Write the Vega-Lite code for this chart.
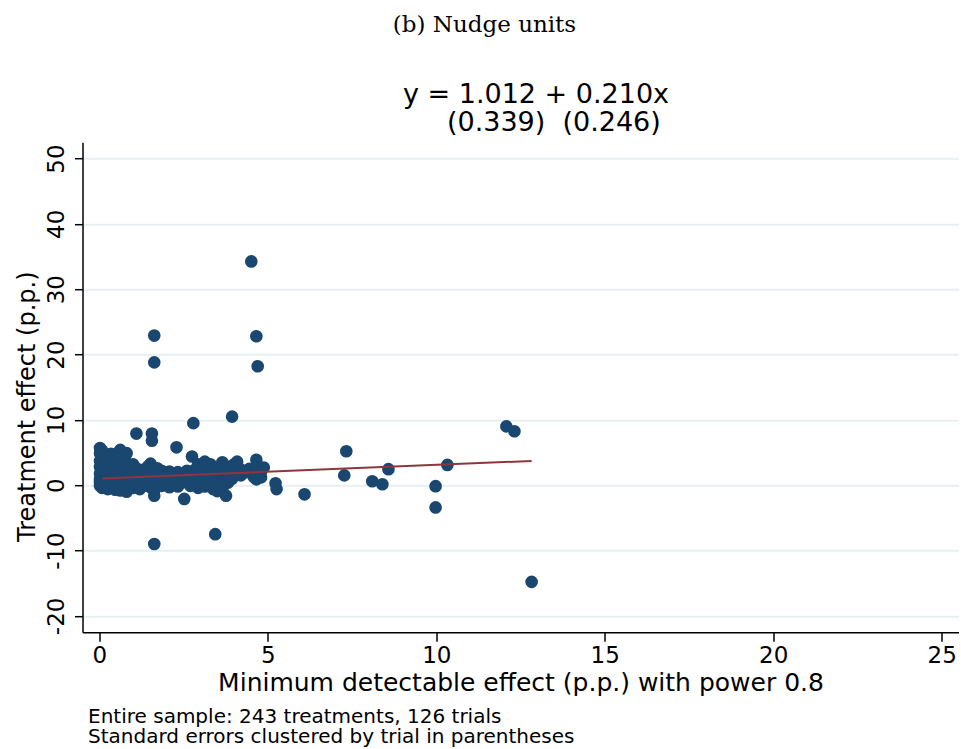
{
  "$schema": "https://vega.github.io/schema/vega-lite/v6.json",
  "width": 876,
  "height": 490,
  "autosize": {"type": "none"},
  "padding": {"left": 82.5, "top": 142.2, "right": 2.5, "bottom": 116.8},
  "background": "white",
  "title": {"text": "(b) Nudge units", "font": "DejaVu Serif", "fontSize": 23, "fontWeight": "normal", "color": "black", "anchor": "middle", "frame": "group", "dx": -36, "offset": 44},
  "config": {
    "view": {"stroke": null},
    "font": "DejaVu Sans",
    "axis": {"labelColor": "black", "titleColor": "black", "domainColor": "black", "tickColor": "black", "labelFont": "DejaVu Sans", "titleFont": "DejaVu Sans", "titleFontWeight": "normal"}
  },
  "datasets": {
    "pts": [
      {"x":0.02,"y":5.7},{"x":0.02,"y":4.9},{"x":0.02,"y":3.7},{"x":0.02,"y":2.8},{"x":0.02,"y":1.8},{"x":0.02,"y":1.0},{"x":0.02,"y":0.4},{"x":0.02,"y":-0.1},{"x":0.02,"y":0.7},
      {"x":0.08,"y":5.3},{"x":0.08,"y":4.3},{"x":0.08,"y":3.2},{"x":0.08,"y":2.2},{"x":0.08,"y":1.4},{"x":0.08,"y":0.2},{"x":0.08,"y":-0.4},
      {"x":0.16,"y":4.6},{"x":0.16,"y":3.6},{"x":0.16,"y":2.4},{"x":0.16,"y":1.1},{"x":0.16,"y":0.5},{"x":0.16,"y":-0.2},
      {"x":0.25,"y":3.9},{"x":0.25,"y":2.8},{"x":0.25,"y":1.7},{"x":0.25,"y":0.9},{"x":0.25,"y":0.0},{"x":0.25,"y":-0.6},
      {"x":0.35,"y":4.8},{"x":0.35,"y":3.1},{"x":0.35,"y":2.0},{"x":0.35,"y":1.2},{"x":0.35,"y":0.3},{"x":0.35,"y":-0.3},
      {"x":0.47,"y":3.6},{"x":0.47,"y":2.6},{"x":0.47,"y":1.5},{"x":0.47,"y":0.6},{"x":0.47,"y":-0.7},
      {"x":0.55,"y":2.1},{"x":0.55,"y":0.9},{"x":0.55,"y":-0.2},
      {"x":0.62,"y":5.4},{"x":0.62,"y":3.0},{"x":0.62,"y":1.8},{"x":0.62,"y":0.4},{"x":0.62,"y":-0.8},
      {"x":0.72,"y":4.3},{"x":0.72,"y":2.4},{"x":0.72,"y":1.2},{"x":0.72,"y":-0.1},
      {"x":0.81,"y":4.9},{"x":0.81,"y":3.4},{"x":0.81,"y":1.9},{"x":0.81,"y":0.6},{"x":0.81,"y":-1.0},
      {"x":0.92,"y":2.7},{"x":0.92,"y":1.4},{"x":0.92,"y":0.2},
      {"x":1.0,"y":3.2},{"x":1.0,"y":2.0},{"x":1.0,"y":0.8},{"x":1.0,"y":-0.4},
      {"x":1.1,"y":7.9},{"x":1.1,"y":2.6},{"x":1.1,"y":1.3},{"x":1.1,"y":0.1},
      {"x":1.2,"y":1.8},{"x":1.2,"y":0.5},{"x":1.2,"y":-0.6},
      {"x":1.32,"y":2.4},{"x":1.32,"y":1.0},{"x":1.32,"y":-0.1},
      {"x":1.45,"y":2.9},{"x":1.45,"y":1.6},{"x":1.45,"y":0.4},
      {"x":1.52,"y":3.3},{"x":1.52,"y":2.1},{"x":1.52,"y":0.9},{"x":1.52,"y":-0.3},
      {"x":1.56,"y":7.9},{"x":1.56,"y":6.8},
      {"x":1.63,"y":22.9},{"x":1.63,"y":18.8},{"x":1.63,"y":-9.0},{"x":1.63,"y":-1.6},{"x":1.63,"y":-0.8},
      {"x":1.72,"y":1.8},{"x":1.72,"y":0.6},{"x":1.72,"y":2.6},
      {"x":1.85,"y":1.2},{"x":1.85,"y":-0.1},{"x":1.85,"y":2.2},
      {"x":1.97,"y":1.6},{"x":1.97,"y":0.5},
      {"x":2.08,"y":2.1},{"x":2.08,"y":0.9},{"x":2.08,"y":-0.3},
      {"x":2.2,"y":1.5},{"x":2.2,"y":0.2},
      {"x":2.29,"y":5.8},
      {"x":2.33,"y":1.1},{"x":2.33,"y":2.0},{"x":2.33,"y":-0.2},
      {"x":2.45,"y":1.6},{"x":2.45,"y":0.4},
      {"x":2.52,"y":-2.1},
      {"x":2.6,"y":2.2},{"x":2.6,"y":0.9},
      {"x":2.7,"y":1.3},{"x":2.7,"y":-0.1},
      {"x":2.75,"y":4.4},
      {"x":2.79,"y":9.5},
      {"x":2.82,"y":2.3},{"x":2.82,"y":0.6},
      {"x":2.93,"y":1.6},{"x":2.93,"y":-0.4},{"x":2.93,"y":3.2},
      {"x":3.03,"y":2.6},{"x":3.03,"y":1.0},{"x":3.03,"y":0.1},
      {"x":3.13,"y":1.8},{"x":3.13,"y":-0.2},{"x":3.13,"y":3.6},
      {"x":3.25,"y":2.4},{"x":3.25,"y":1.2},{"x":3.25,"y":0.3},
      {"x":3.3,"y":3.2},
      {"x":3.38,"y":1.7},{"x":3.38,"y":0.0},{"x":3.38,"y":-0.6},
      {"x":3.44,"y":-7.5},
      {"x":3.5,"y":2.6},{"x":3.5,"y":0.9},{"x":3.5,"y":-0.9},
      {"x":3.6,"y":1.6},{"x":3.6,"y":0.3},
      {"x":3.65,"y":3.5},{"x":3.65,"y":2.3},{"x":3.65,"y":-0.6},
      {"x":3.74,"y":1.1},{"x":3.76,"y":-1.6},
      {"x":3.82,"y":2.8},{"x":3.82,"y":1.8},{"x":3.82,"y":0.4},
      {"x":3.94,"y":10.5},{"x":3.94,"y":2.3},{"x":3.94,"y":1.0},
      {"x":4.0,"y":3.2},
      {"x":4.09,"y":3.6},{"x":4.09,"y":1.7},
      {"x":4.2,"y":2.4},{"x":4.2,"y":1.5},
      {"x":4.35,"y":2.0},
      {"x":4.45,"y":2.5},
      {"x":4.51,"y":34.25},
      {"x":4.58,"y":2.0},{"x":4.58,"y":1.3},
      {"x":4.66,"y":3.9},{"x":4.66,"y":22.8},{"x":4.66,"y":0.9},
      {"x":4.68,"y":2.5},{"x":4.68,"y":1.5},
      {"x":4.7,"y":18.2},
      {"x":4.8,"y":2.1},{"x":4.8,"y":1.2},
      {"x":4.88,"y":2.7},
      {"x":5.23,"y":0.3},{"x":5.26,"y":-0.6},
      {"x":6.09,"y":-1.4},
      {"x":7.27,"y":1.5},{"x":7.33,"y":5.2},
      {"x":8.1,"y":0.6},{"x":8.4,"y":0.15},{"x":8.58,"y":2.45},
      {"x":9.98,"y":-0.15},{"x":9.98,"y":-3.4},
      {"x":10.33,"y":3.1},
      {"x":12.08,"y":9.0},{"x":12.32,"y":8.26},
      {"x":12.83,"y":-14.8}
    ],
    "fit": [{"x":0.09,"y":1.031},{"x":12.83,"y":3.706}],
    "eq": [{"x":12.96,"y":59.8,"label":"y = 1.012 + 0.210x"},{"x":13.49,"y":55.5,"label":"(0.339)\u00a0\u00a0(0.246)"}],
    "note": [{"x":-0.335,"y":-35.45,"label":"Entire sample: 243 treatments, 126 trials"},{"x":-0.335,"y":-38.5,"label":"Standard errors clustered by trial in parentheses"}]
  },
  "layer": [
    {
      "data": {"name": "pts"},
      "mark": {"type": "circle", "size": 160, "color": "#1a476f", "opacity": 1},
      "encoding": {
        "x": {"field": "x", "type": "quantitative", "scale": {"domain": [-0.5, 25.5], "nice": false, "zero": false},
              "axis": {"values": [0,5,10,15,20,25], "grid": false, "tickSize": 9, "tickWidth": 1.5, "domainWidth": 1.5, "labelFontSize": 23, "labelPadding": 3, "title": "Minimum detectable effect (p.p.) with power 0.8", "titleFontSize": 25, "titlePadding": 3}},
        "y": {"field": "y", "type": "quantitative", "scale": {"domain": [-22.5, 52.5], "nice": false, "zero": false},
              "axis": {"values": [-20,-10,0,10,20,30,40,50], "labelExpr": "datum.value < 0 ? '-' + abs(datum.value) : '' + datum.value", "grid": true, "gridColor": "#e6eff1", "gridWidth": 2, "tickSize": 8, "tickWidth": 1.5, "domainWidth": 1.5, "labelAngle": -90, "labelAlign": "center", "labelBaseline": "bottom", "labelFontSize": 23, "labelPadding": 6, "title": "Treatment effect (p.p.)", "titleFontSize": 24, "titlePadding": 6, "titleY": 264}}
      }
    },
    {
      "data": {"name": "fit"},
      "mark": {"type": "line", "color": "#90353b", "strokeWidth": 2},
      "encoding": {
        "x": {"field": "x", "type": "quantitative"},
        "y": {"field": "y", "type": "quantitative"}
      }
    },
    {
      "data": {"name": "eq"},
      "mark": {"type": "text", "font": "DejaVu Sans", "fontSize": 27, "color": "black", "align": "center", "baseline": "middle"},
      "encoding": {
        "x": {"field": "x", "type": "quantitative"},
        "y": {"field": "y", "type": "quantitative"},
        "text": {"field": "label"}
      }
    },
    {
      "data": {"name": "note"},
      "mark": {"type": "text", "font": "DejaVu Sans", "fontSize": 20, "color": "black", "align": "left", "baseline": "middle"},
      "encoding": {
        "x": {"field": "x", "type": "quantitative"},
        "y": {"field": "y", "type": "quantitative"},
        "text": {"field": "label"}
      }
    }
  ]
}
